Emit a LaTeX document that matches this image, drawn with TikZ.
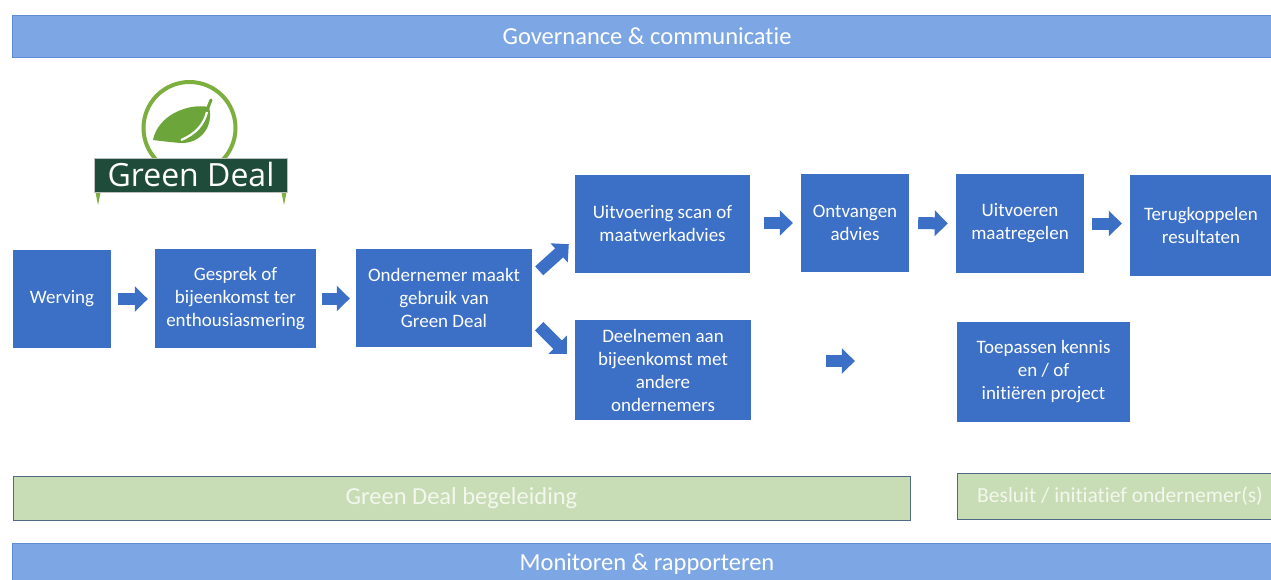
\documentclass[tikz,border=0pt]{standalone}
\usepackage{fontspec}
\setmainfont{Carlito}[Ligatures=NoCommon]
\newfontfamily\logofont{Open Sans}
\usetikzlibrary{arrows.meta,calc}
\definecolor{barblue}{HTML}{7DA7E4}
\definecolor{barline}{HTML}{5F8CD2}
\definecolor{boxblue}{HTML}{3C6FC6}
\definecolor{greenfill}{HTML}{C8DDB5}
\definecolor{greenline}{HTML}{4E6A86}
\definecolor{greentext}{HTML}{F3F7EE}
\definecolor{logogreen}{HTML}{7DAF3F}
\definecolor{leafgreen}{HTML}{6CA63A}
\definecolor{bannergreen}{HTML}{1F4B3B}
\tikzset{
  box/.style={fill=boxblue, text=white, align=center, inner sep=0pt,
    font=\fontsize{19}{23}\selectfont},
  bluebar/.style={fill=barblue, draw=barline, line width=0.8pt, text=white,
    inner sep=0pt, minimum height=42pt, font=\fontsize{24.5}{27}\selectfont},
  greenbar/.style={fill=greenfill, draw=greenline, line width=1pt, text=greentext,
    inner sep=0pt},
  blockarrow/.style={draw=boxblue, line width=12pt,
    -{Triangle[length=13pt,width=25pt]}},
}
\begin{document}
\begin{tikzpicture}[x=1pt,y=-1pt]
\useasboundingbox (0,0) rectangle (1271,580);
\fill[white] (0,0) rectangle (1271,580);

% bars
\node[bluebar, minimum width=1270pt] (gov) at (647,36) {Governance \& communicatie};
\node[bluebar, minimum width=1270pt] (mon) at (647,564) {Monitoren \& rapporteren};
\node[greenbar, minimum width=897pt, minimum height=44pt, font=\fontsize{24.5}{27}\selectfont] (gdb) at (461.5,498) {Green Deal begeleiding};
\node[greenbar, minimum width=326pt, minimum height=46pt, font=\fontsize{21.5}{24}\selectfont] (bes) at (1120,496) {Besluit / initiatief ondernemer(s)};

% logo
\draw[logogreen, line width=4pt] (189.5,128) circle (46);
\fill[leafgreen] (153,140) .. controls (158,115) and (188,103) .. (209,107)
  .. controls (214,126) and (201,144) .. (180,143)
  .. controls (170,142) and (160,141) .. (153,140) -- cycle;
\draw[white, line width=2.2pt] (181,140) .. controls (196,134) and (204,124) .. (207,112);
\draw[leafgreen, line width=3pt, line cap=round] (207,110) -- (211,100);
\fill[logogreen] (95,190) -- (101,190) -- (98,205) -- cycle;
\fill[logogreen] (281,190) -- (287,190) -- (284,205) -- cycle;
\node[fill=bannergreen, draw=gray!50, line width=0.6pt, minimum width=193pt, minimum height=34pt,
  inner sep=0pt, text=white, font=\logofont\fontsize{32}{34}\selectfont] (logo) at (191,175) {Green Deal};

% process boxes
\node[box, minimum width=98pt, minimum height=98pt] (werving) at (62,299) {Werving};
\node[box, minimum width=161pt, minimum height=99pt] (gesprek) at (235.5,298.5) {Gesprek of\\bijeenkomst ter\\enthousiasmering};
\node[box, minimum width=176pt, minimum height=98pt] (onder) at (444,298) {Ondernemer maakt\\gebruik van\\Green Deal};
\node[box, minimum width=175pt, minimum height=98pt] (uitv) at (662.5,224) {Uitvoering scan of\\maatwerkadvies};
\node[box, minimum width=108pt, minimum height=98pt] (ontv) at (855,223) {Ontvangen\\advies};
\node[box, minimum width=128pt, minimum height=99pt] (uitvoeren) at (1020,223.5) {Uitvoeren\\maatregelen};
\node[box, minimum width=142pt, minimum height=101pt] (terug) at (1201,225.5) {Terugkoppelen\\resultaten};
\node[box, minimum width=176pt, minimum height=100pt] (deel) at (663,370) {Deelnemen aan\\bijeenkomst met\\andere\\ondernemers};
\node[box, minimum width=173pt, minimum height=100pt] (toep) at (1043.5,372) {Toepassen kennis\\en / of\\initiëren project};

% connector end points
\coordinate (up1) at ($(onder.north east)+(7,22)$);
\coordinate (up2) at ($(uitv.south west)+(-6,-29)$);
\coordinate (dn1) at ($(onder.south east)+(7,-21)$);
\coordinate (dn2) at ($(deel.west)+(-8,-16)$);
\coordinate (fr1) at ($(deel.east)+(75,-9)$);
\coordinate (fr2) at ($(toep.west)+(-102,-11)$);

% block arrows
\draw[blockarrow, shorten <=7pt, shorten >=7pt] (werving.east) -- (gesprek.west |- werving.east);
\draw[blockarrow, shorten <=6pt, shorten >=6pt] (gesprek.east) -- (onder.west |- gesprek.east);
\draw[blockarrow] (up1) -- (up2);
\draw[blockarrow] (dn1) -- (dn2);
\draw[blockarrow, shorten <=14pt, shorten >=8pt] (uitv.east |- ontv.east) -- (ontv.west);
\draw[blockarrow, shorten <=9pt, shorten >=8pt] (ontv.east) -- (uitvoeren.west);
\draw[blockarrow, shorten <=8pt, shorten >=8pt] (uitvoeren.east) -- (terug.west |- uitvoeren.east);
\draw[blockarrow] (fr1) -- (fr2);
\end{tikzpicture}
\end{document}
